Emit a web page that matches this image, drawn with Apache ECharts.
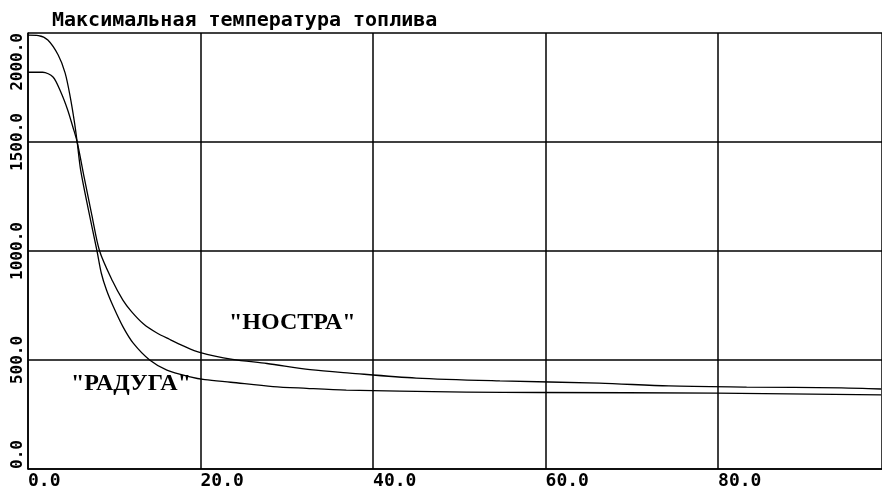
<!DOCTYPE html>
<html>
<head>
<meta charset="utf-8">
<script src="https://cdn.jsdelivr.net/npm/echarts@6/dist/echarts.min.js"></script>
<style>html,body{margin:0;padding:0;background:#fff}#c{width:882px;height:486px}</style>
</head>
<body>
<div id="c"></div>
<script>
const titleText = 'Максимальная температура топлива';
const labelRaduga = '"РАДУГА"';
const labelNostra = '"НОСТРА"';

const xTicks = [0, 20, 40, 60, 80];
const yTicks = [0, 500, 1000, 1500, 2000];

const radugaX = [0, 1.2, 2.3, 3.5, 4.3, 4.9, 5.4, 5.7, 6.1, 7.0, 8.0, 8.5, 9.1, 9.9, 11.0, 12.2, 14.1, 16.1, 18.8, 20.5, 23.5, 28.4, 32.3, 36.9, 43.1, 50.8, 59.3, 79.8, 98.9];
const radugaY = [1990, 1988, 1968, 1899, 1817, 1706, 1587, 1500, 1372, 1190, 1000, 898, 821, 744, 653, 577, 500, 454, 423, 410, 398, 378, 370, 362, 357, 353, 351, 348, 340];

const nostraX = [0, 1.7, 2.9, 3.8, 4.6, 5.2, 5.7, 6.5, 7.4, 8.3, 9.8, 11.0, 12.0, 13.4, 14.9, 16.4, 18.0, 19.9, 23.7, 27.7, 32.7, 37.3, 45.0, 54.7, 66.2, 74.3, 83.3, 94.3, 98.9];
const nostraY = [1820, 1820, 1798, 1729, 1647, 1569, 1500, 1340, 1165, 1000, 862, 775, 722, 665, 625, 595, 565, 535, 503, 484, 456, 440, 417, 404, 394, 381, 376, 372, 367];

const pairs = (xs, ys) => xs.map((x, i) => [x, ys[i]]);

const chart = echarts.init(document.getElementById('c'), null, {renderer: 'canvas'});
const mono = '"DejaVu Sans Mono", "Liberation Mono", monospace';
const serif = '"Liberation Serif", "DejaVu Serif", serif';

chart.setOption({
  animation: false,
  backgroundColor: '#ffffff',
  title: {
    text: titleText,
    left: 47, top: 6,
    textStyle: {fontFamily: mono, fontWeight: 'bold', fontSize: 20, color: '#000'}
  },
  grid: {left: 28, right: 0, top: 33, bottom: 17, containLabel: false, outerBoundsMode: 'none'},
  xAxis: {
    type: 'value', min: 0, max: 99, interval: 20,
    axisLine: {show: true, lineStyle: {color: '#000', width: 1.5}},
    axisTick: {show: false},
    splitLine: {show: true, lineStyle: {color: '#000', width: 1.5}},
    axisLabel: {
      margin: 3, align: 'left', color: '#000',
      fontFamily: mono, fontWeight: 'bold', fontSize: 18,
      customValues: xTicks,
      formatter: v => v.toFixed(1)
    }
  },
  yAxis: {
    type: 'value', min: 0, max: 2000, interval: 500,
    axisLine: {show: true, lineStyle: {color: '#000', width: 1.5}},
    axisTick: {show: false},
    splitLine: {show: true, lineStyle: {color: '#000', width: 1.5}},
    axisLabel: {
      rotate: 90, margin: 2, color: '#000',
      fontFamily: mono, fontWeight: 'bold', fontSize: 16,
      customValues: yTicks,
      alignMinLabel: 'left', alignMaxLabel: 'right',
      formatter: v => v.toFixed(1)
    }
  },
  graphic: [
    {type: 'text', left: 229, top: 311, style: {text: labelNostra, font: 'bold 24px ' + serif, fill: '#000'}},
    {type: 'text', left: 71, top: 372, style: {text: labelRaduga, font: 'bold 24px ' + serif, fill: '#000'}}
  ],
  series: [
    {type: 'line', name: 'РАДУГА', data: pairs(radugaX, radugaY), smooth: 0.3, showSymbol: false,
     lineStyle: {color: '#000', width: 1.3}},
    {type: 'line', name: 'НОСТРА', data: pairs(nostraX, nostraY), smooth: 0.3, showSymbol: false,
     lineStyle: {color: '#000', width: 1.3}}
  ]
});
</script>
</body>
</html>
